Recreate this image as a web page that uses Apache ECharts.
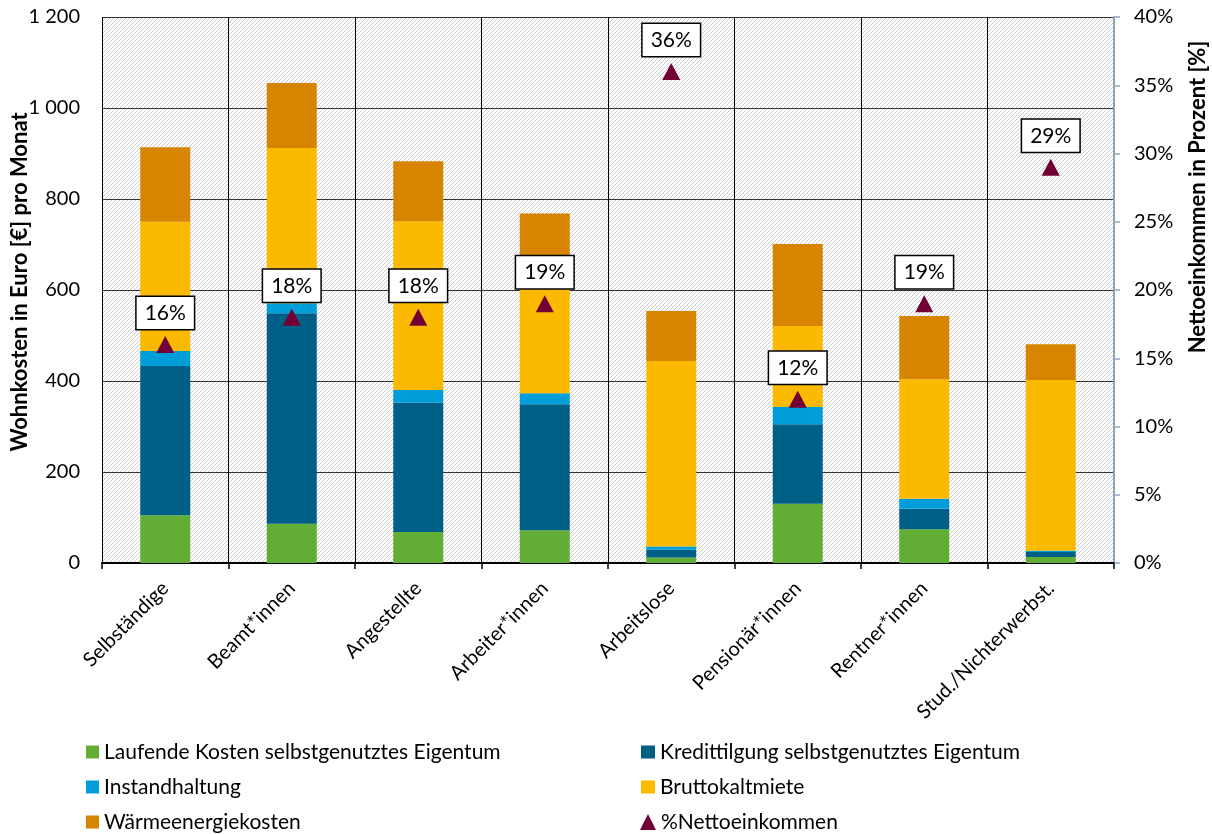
<!DOCTYPE html>
<html>
<head>
<meta charset="utf-8">
<script src="https://cdn.jsdelivr.net/npm/echarts@6/dist/echarts.min.js"></script>
<style>
  html, body { margin: 0; padding: 0; background: #fff; }
  #chart { width: 1212px; height: 834px; }
</style>
</head>
<body>
<div id="chart"></div>
<script>
// Monthly housing costs by social status (euro), stacked by cost type
const categories = ['Selbständige', 'Beamt*innen', 'Angestellte', 'Arbeiter*innen',
                    'Arbeitslose', 'Pensionär*innen', 'Rentner*innen', 'Stud./Nichterwerbst.'];
const laufendeKosten = [105, 86, 68, 72, 12, 130, 74, 13];
const kredittilgung  = [328, 463, 284, 277, 17, 175, 45, 11];
const instandhaltung = [33, 22, 28, 24, 7, 38, 22, 3];
const bruttokaltmiete = [284, 341, 371, 290, 408, 178, 263, 375];
const waermeenergie  = [164, 143, 132, 105, 110, 180, 139, 79];
// Housing costs as share of net income (%)
const anteilNetto = [16, 18, 18, 19, 36, 12, 19, 29];

const euroTicks = [0, 200, 400, 600, 800, 1000, 1200];
const percentTicks = [0, 5, 10, 15, 20, 25, 30, 35, 40];

const FONT = 'Lato';

// Diagonal hatch used as plot background
function hatchPattern() {
  const c = document.createElement('canvas');
  c.width = 8; c.height = 8;
  const g = c.getContext('2d');
  g.fillStyle = '#ffffff';
  g.fillRect(0, 0, 8, 8);
  g.strokeStyle = '#cdcdcd';
  g.lineWidth = 1;
  for (let o = -8; o <= 8; o += 4) {
    g.beginPath();
    g.moveTo(o, 8);
    g.lineTo(o + 8, 0);
    g.stroke();
  }
  return { image: c, repeat: 'repeat' };
}

const chart = echarts.init(document.getElementById('chart'), null, { renderer: 'canvas' });

function barSeries(name, data, color) {
  return {
    name: name,
    type: 'bar',
    stack: 'kosten',
    barWidth: 50,
    data: data,
    itemStyle: { color: color },
    emphasis: { disabled: true }
  };
}

const legendText = { fontFamily: FONT, fontSize: 21, color: '#000', lineHeight: 22 };

const option = {
  animation: false,
  textStyle: { fontFamily: FONT },
  grid: {
    left: 102, right: 98, top: 17, bottom: 271,
    show: true,
    backgroundColor: hatchPattern(),
    borderWidth: 0
  },
  xAxis: {
    type: 'category',
    data: categories,
    boundaryGap: true,
    axisLine: { lineStyle: { color: '#000', width: 2 } },
    axisTick: { show: true, length: 6, lineStyle: { color: '#000', width: 1.5 } },
    splitLine: { show: true, lineStyle: { color: '#000', width: 1 } },
    axisLabel: {
      rotate: 45, margin: 22, color: '#000',
      fontFamily: FONT, fontSize: 20, interval: 0
    }
  },
  yAxis: [
    {
      type: 'value',
      min: euroTicks[0], max: euroTicks[euroTicks.length - 1], interval: 200,
      axisLine: { show: false },
      axisTick: { show: false },
      splitLine: { show: true, lineStyle: { color: '#333', width: 1 } },
      axisLabel: {
        margin: 22, color: '#000', fontFamily: FONT, fontSize: 20,
        formatter: v => String(v).replace(/\B(?=(\d{3})+(?!\d))/g, ' ')
      }
    },
    {
      type: 'value',
      min: percentTicks[0], max: percentTicks[percentTicks.length - 1], interval: 5,
      position: 'right',
      axisLine: { show: true, lineStyle: { color: '#8da5bf', width: 2 } },
      axisTick: { show: true, length: 6, lineStyle: { color: '#8da5bf', width: 1.5 } },
      splitLine: { show: false },
      axisLabel: {
        margin: 20, color: '#000', fontFamily: FONT, fontSize: 20,
        formatter: '{value}%'
      }
    }
  ],
  legend: [
    {
      orient: 'vertical', left: 81, top: 736, height: 120,
      itemWidth: 13, itemHeight: 13, itemGap: 13,
      textStyle: legendText,
      data: [
        { name: 'Laufende Kosten selbstgenutztes Eigentum', icon: 'rect' },
        { name: 'Instandhaltung', icon: 'rect' },
        { name: 'Wärmeenergiekosten', icon: 'rect' }
      ],
      selectedMode: false
    },
    {
      orient: 'vertical', left: 636, top: 736, height: 80,
      itemWidth: 14, itemHeight: 13, itemGap: 13,
      textStyle: legendText,
      data: [
        { name: 'Kredittilgung selbstgenutztes Eigentum', icon: 'rect' },
        { name: 'Bruttokaltmiete', icon: 'rect' }
      ],
      selectedMode: false
    },
    {
      orient: 'vertical', left: 635, top: 806, height: 30,
      itemWidth: 16, itemHeight: 16,
      textStyle: legendText,
      data: [{ name: '%Nettoeinkommen', icon: 'triangle' }],
      selectedMode: false
    }
  ],
  graphic: [
    {
      type: 'text', x: 20, y: 282, rotation: Math.PI / 2,
      style: {
        text: 'Wohnkosten in Euro [€] pro Monat',
        fontFamily: FONT, fontSize: 22, fontWeight: 'bold', fill: '#000',
        align: 'center', verticalAlign: 'middle'
      }
    },
    {
      type: 'text', x: 1198, y: 197, rotation: Math.PI / 2,
      style: {
        text: 'Nettoeinkommen in Prozent [%]',
        fontFamily: FONT, fontSize: 22, fontWeight: 'bold', fill: '#000',
        align: 'center', verticalAlign: 'middle'
      }
    }
  ],
  series: [
    barSeries('Laufende Kosten selbstgenutztes Eigentum', laufendeKosten, '#61ad36'),
    barSeries('Kredittilgung selbstgenutztes Eigentum', kredittilgung, '#005f86'),
    barSeries('Instandhaltung', instandhaltung, '#009ed8'),
    barSeries('Bruttokaltmiete', bruttokaltmiete, '#fbba00'),
    barSeries('Wärmeenergiekosten', waermeenergie, '#d78400'),
    {
      name: '%Nettoeinkommen',
      type: 'scatter',
      yAxisIndex: 1,
      symbol: 'triangle',
      symbolSize: [18, 17],
      data: anteilNetto,
      itemStyle: { color: '#730034', opacity: 1 },
      z: 5,
      label: {
        show: true,
        position: 'top',
        distance: 7,
        opacity: 1,
        formatter: p => p.value + '%',
        fontFamily: FONT, fontSize: 21, color: '#000',
        backgroundColor: '#fff',
        borderColor: '#000', borderWidth: 1.5,
        padding: [6, 8, 5, 8]
      },
      emphasis: { disabled: true }
    }
  ]
};

chart.setOption(option);
</script>
</body>
</html>
